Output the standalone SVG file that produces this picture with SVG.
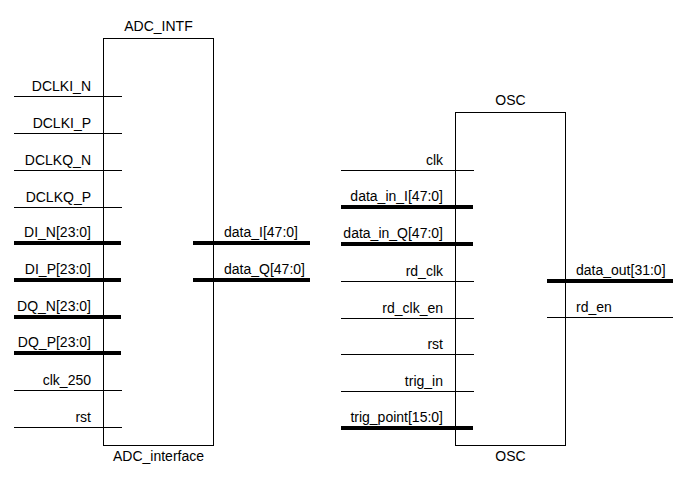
<svg xmlns="http://www.w3.org/2000/svg" width="691" height="486" viewBox="0 0 691 486">
<style>
text{font-family:"Liberation Sans",Arial,sans-serif;font-size:14px;fill:#000}
.r{text-anchor:end}
.c{text-anchor:middle}
.box{fill:#fff;stroke:#000;stroke-width:1}
.w{stroke:#000;stroke-width:1;fill:none}
.b{stroke:#000;stroke-width:4;fill:none}
</style>
<rect width="691" height="486" fill="#fff"/>
<g id="ADC_interface">
<rect class="box" x="103.5" y="38.5" width="110" height="407"/>
<text class="c" x="158.5" y="31">ADC_INTF</text>
<text class="c" x="158.5" y="461">ADC_interface</text>
</g>
<g id="OSC">
<rect class="box" x="455.5" y="112.5" width="110" height="333"/>
<text class="c" x="510.5" y="105">OSC</text>
<text class="c" x="510.5" y="461">OSC</text>
</g>
<g id="connectors">
<line class="w" x1="14" y1="96.5" x2="122" y2="96.5"/>
<line class="w" x1="14" y1="133.5" x2="122" y2="133.5"/>
<line class="w" x1="14" y1="170.5" x2="122" y2="170.5"/>
<line class="w" x1="14" y1="207.5" x2="122" y2="207.5"/>
<line class="b" x1="14" y1="243" x2="121" y2="243"/>
<line class="b" x1="14" y1="280" x2="121" y2="280"/>
<line class="b" x1="14" y1="317" x2="121" y2="317"/>
<line class="b" x1="14" y1="353" x2="121" y2="353"/>
<line class="w" x1="14" y1="390.5" x2="122" y2="390.5"/>
<line class="w" x1="14" y1="427.5" x2="122" y2="427.5"/>
<line class="b" x1="193" y1="243" x2="310" y2="243"/>
<line class="b" x1="193" y1="280" x2="310" y2="280"/>
<line class="w" x1="341" y1="170.5" x2="474" y2="170.5"/>
<line class="b" x1="341" y1="207" x2="473" y2="207"/>
<line class="b" x1="341" y1="244" x2="473" y2="244"/>
<line class="w" x1="341" y1="281.5" x2="474" y2="281.5"/>
<line class="w" x1="341" y1="318.5" x2="474" y2="318.5"/>
<line class="w" x1="341" y1="354.5" x2="474" y2="354.5"/>
<line class="w" x1="341" y1="391.5" x2="474" y2="391.5"/>
<line class="b" x1="341" y1="428" x2="473" y2="428"/>
<line class="b" x1="547" y1="281" x2="673" y2="281"/>
<line class="w" x1="547" y1="317.5" x2="673" y2="317.5"/>
</g>
<g id="labels">
<text class="r" x="91" y="91">DCLKI_N</text>
<text class="r" x="91" y="128">DCLKI_P</text>
<text class="r" x="91" y="165">DCLKQ_N</text>
<text class="r" x="91" y="202">DCLKQ_P</text>
<text class="r" x="91" y="237">DI_N[23:0]</text>
<text class="r" x="91" y="274">DI_P[23:0]</text>
<text class="r" x="91" y="311">DQ_N[23:0]</text>
<text class="r" x="91" y="347">DQ_P[23:0]</text>
<text class="r" x="91" y="385">clk_250</text>
<text class="r" x="91" y="422">rst</text>
<text x="224" y="237">data_I[47:0]</text>
<text x="224" y="274">data_Q[47:0]</text>
<text class="r" x="443" y="165">clk</text>
<text class="r" x="443" y="201">data_in_I[47:0]</text>
<text class="r" x="443" y="238">data_in_Q[47:0]</text>
<text class="r" x="443" y="276">rd_clk</text>
<text class="r" x="443" y="313">rd_clk_en</text>
<text class="r" x="443" y="349">rst</text>
<text class="r" x="443" y="386">trig_in</text>
<text class="r" x="443" y="422">trig_point[15:0]</text>
<text x="576" y="275">data_out[31:0]</text>
<text x="576" y="312">rd_en</text>
</g>
</svg>
